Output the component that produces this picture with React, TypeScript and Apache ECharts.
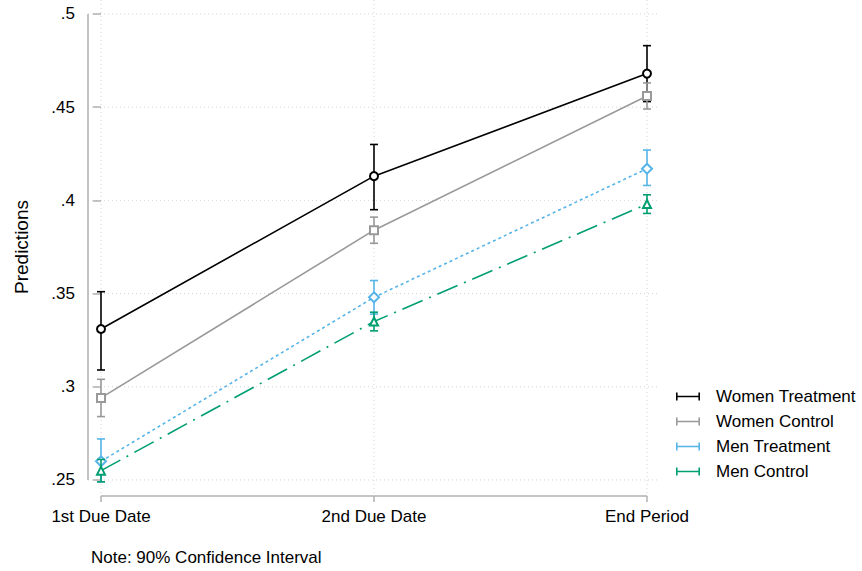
import React, { useEffect, useRef } from "react";
import * as echarts from "echarts";

const categories = ["1st Due Date", "2nd Due Date", "End Period"];
const yTicks = [0.25, 0.3, 0.35, 0.4, 0.45, 0.5];

const seriesNames = ["Women Treatment", "Women Control", "Men Treatment", "Men Control"];
const womenTreatment = [0.331, 0.413, 0.468];
const womenTreatmentLow = [0.309, 0.395, 0.453];
const womenTreatmentHigh = [0.351, 0.430, 0.483];
const womenControl = [0.294, 0.384, 0.456];
const womenControlLow = [0.284, 0.377, 0.449];
const womenControlHigh = [0.304, 0.391, 0.463];
const menTreatment = [0.260, 0.348, 0.417];
const menTreatmentLow = [0.249, 0.339, 0.408];
const menTreatmentHigh = [0.272, 0.357, 0.427];
const menControl = [0.255, 0.335, 0.398];
const menControlLow = [0.249, 0.330, 0.393];
const menControlHigh = [0.261, 0.340, 0.403];

const FONT = "'Liberation Sans', Arial, Helvetica, sans-serif";
const X_MIN = -13 / 273;
const X_MAX = 2 + 13 / 273;
const Y_MIN = 0.243;
const Y_MAX = 0.5075;
const AXIS_COLOR = "#b0b0b0";
const GRID_COLOR = "#d4d4d4";

export default function App() {
  const ref = useRef<HTMLDivElement>(null);

  useEffect(() => {
    if (!ref.current) return;
    const chart = echarts.init(ref.current, null, { renderer: "svg" });

    const groups = [
      { name: seriesNames[0], mean: womenTreatment, low: womenTreatmentLow, high: womenTreatmentHigh, color: "#000000", symbol: "emptyCircle", size: 8, dash: "solid" as any },
      { name: seriesNames[1], mean: womenControl, low: womenControlLow, high: womenControlHigh, color: "#999999", symbol: "emptyRect", size: 8, dash: "solid" as any },
      { name: seriesNames[2], mean: menTreatment, low: menTreatmentLow, high: menTreatmentHigh, color: "#56B4E9", symbol: "emptyDiamond", size: 10, dash: [3, 3] as any },
      { name: seriesNames[3], mean: menControl, low: menControlLow, high: menControlHigh, color: "#009E73", symbol: "emptyTriangle", size: 8, dash: [22, 7, 2, 7] as any },
    ];

    const legendIcon = "path://M0,3.2h24v1.6h-24z M0,0h1.6v8h-1.6z M22.4,0h1.6v8h-1.6z";

    const series: any[] = [];

    series.push({
      type: "custom",
      name: "hgrid",
      silent: true,
      z: 0,
      data: yTicks.map((v) => [v]),
      renderItem: (params: any, api: any) => {
        const v = api.value(0);
        const p1 = api.coord([X_MIN, v]);
        const p2 = api.coord([X_MAX, v]);
        return {
          type: "line",
          shape: { x1: p1[0], y1: p1[1], x2: p2[0], y2: p2[1] },
          style: { stroke: GRID_COLOR, lineWidth: 1, lineDash: [1, 3] },
        };
      },
    });
    series.push({
      type: "custom",
      name: "vgrid",
      silent: true,
      z: 0,
      data: categories.map((_, i) => [i]),
      renderItem: (params: any, api: any) => {
        const v = api.value(0);
        const p1 = api.coord([v, Y_MAX]);
        const p2 = api.coord([v, Y_MIN]);
        return {
          type: "line",
          shape: { x1: p1[0], y1: p1[1], x2: p2[0], y2: p2[1] },
          style: { stroke: GRID_COLOR, lineWidth: 1, lineDash: [1, 3] },
        };
      },
    });
    series.push({
      type: "custom",
      name: "axes",
      silent: true,
      z: 1,
      data: [[0]],
      renderItem: (params: any, api: any) => {
        const a = api.coord([X_MIN, yTicks[0]]);
        const b = api.coord([X_MIN, yTicks[yTicks.length - 1]]);
        const c = api.coord([0, Y_MIN]);
        const d = api.coord([categories.length - 1, Y_MIN]);
        return {
          type: "group",
          children: [
            { type: "line", shape: { x1: a[0], y1: a[1], x2: b[0], y2: b[1] }, style: { stroke: AXIS_COLOR, lineWidth: 1.5 } },
            { type: "line", shape: { x1: c[0], y1: c[1] + 3, x2: d[0], y2: d[1] + 3 }, style: { stroke: AXIS_COLOR, lineWidth: 1.5 } },
          ],
        };
      },
    });

    groups.forEach((g, gi) => {
      series.push({
        type: "custom",
        name: "ci-" + gi,
        z: 2 + gi * 2,
        data: g.mean.map((_, i) => [i, g.low[i], g.high[i]]),
        renderItem: (params: any, api: any) => {
          const x = api.value(0);
          const lo = api.coord([x, api.value(1)]);
          const hi = api.coord([x, api.value(2)]);
          const st = { stroke: g.color, lineWidth: 1.6 };
          return {
            type: "group",
            children: [
              { type: "line", shape: { x1: lo[0], y1: lo[1], x2: hi[0], y2: hi[1] }, style: st },
              { type: "line", shape: { x1: lo[0] - 4, y1: lo[1], x2: lo[0] + 4, y2: lo[1] }, style: st },
              { type: "line", shape: { x1: hi[0] - 4, y1: hi[1], x2: hi[0] + 4, y2: hi[1] }, style: st },
            ],
          };
        },
      });
      series.push({
        type: "line",
        name: g.name,
        z: 3 + gi * 2,
        data: g.mean.map((v, i) => [i, v]),
        symbol: g.symbol,
        symbolSize: g.size,
        showSymbol: true,
        color: g.color,
        lineStyle: { color: g.color, width: 1.6, type: g.dash },
        itemStyle: { color: g.color, borderColor: g.color, borderWidth: 1.5 },
        emphasis: { disabled: true },
      });
    });

    chart.setOption({
      animation: false,
      backgroundColor: "#ffffff",
      grid: { left: 88, right: 202, top: 0, bottom: 78, containLabel: false },
      xAxis: {
        type: "value",
        min: X_MIN,
        max: X_MAX,
        offset: 3,
        axisLine: { show: false },
        splitLine: { show: false },
        axisTick: { show: true, length: 6, customValues: [0, 1, 2], lineStyle: { color: AXIS_COLOR, width: 1.5 } },
        axisLabel: {
          customValues: [0, 1, 2],
          margin: 12,
          fontSize: 17,
          fontFamily: FONT,
          color: "#000000",
          formatter: (v: number) => categories[Math.round(v)] ?? "",
        },
      },
      yAxis: {
        type: "value",
        min: Y_MIN,
        max: Y_MAX,
        axisLine: { show: false },
        splitLine: { show: false },
        axisTick: { show: true, length: 8, customValues: yTicks, lineStyle: { color: AXIS_COLOR, width: 1.5 } },
        axisLabel: {
          customValues: yTicks,
          margin: 13,
          fontSize: 17,
          fontFamily: FONT,
          color: "#000000",
          formatter: (v: number) => {
            let s = String(Math.round(v * 100) / 100);
            if (s.startsWith("0")) s = s.slice(1);
            return s;
          },
        },
      },
      legend: {
        orient: "vertical",
        left: 676,
        top: 388,
        itemWidth: 24,
        itemHeight: 8,
        itemGap: 8,
        padding: 0,
        selectedMode: false,
        data: groups.map((g) => ({ name: g.name, icon: legendIcon, itemStyle: { color: g.color, borderWidth: 0 } })),
        textStyle: { fontSize: 17, fontFamily: FONT, color: "#000000", lineHeight: 17, padding: [0, 0, 0, 11] },
      },
      graphic: [
        {
          type: "text",
          x: 21,
          y: 247,
          rotation: Math.PI / 2,
          style: { text: "Predictions", fontSize: 19, fontFamily: FONT, fill: "#000000", textAlign: "center", textVerticalAlign: "middle" },
        },
        {
          type: "text",
          x: 91,
          y: 557,
          style: { text: "Note: 90% Confidence Interval", fontSize: 17, fontFamily: FONT, fill: "#000000", textAlign: "left", textVerticalAlign: "middle" },
        },
      ],
      series,
    });

    return () => chart.dispose();
  }, []);

  return <div ref={ref} style={{ position: "fixed", left: 0, top: 0, width: 862, height: 571 }} />;
}
